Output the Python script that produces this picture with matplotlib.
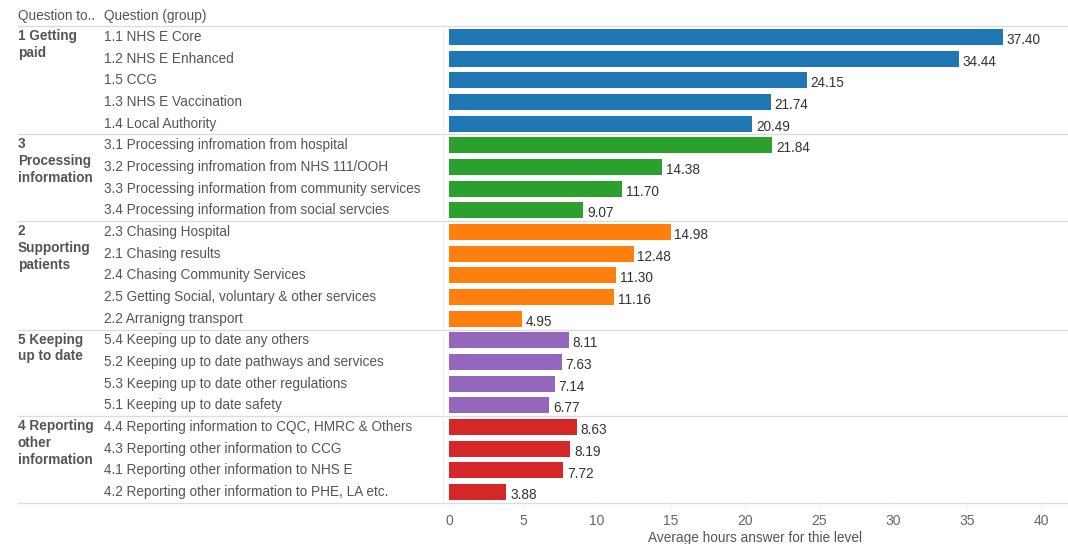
import matplotlib
matplotlib.use("Agg")
import matplotlib.pyplot as plt
import matplotlib.transforms as mtransforms

plt.rcParams["font.family"] = ["Liberation Sans", "DejaVu Sans"]

# --- Data ---
groups = ["1 Getting\npaid", "3\nProcessing\ninformation", "2\nSupporting\npatients",
          "5 Keeping\nup to date", "4 Reporting\nother\ninformation"]
group_colors = ["#1f77b4", "#2ca02c", "#ff7f0e", "#9467bd", "#d62728"]

questions = [
    ["1.1 NHS E Core", "1.2 NHS E Enhanced", "1.5 CCG", "1.3 NHS E Vaccination", "1.4 Local Authority"],
    ["3.1 Processing infromation from hospital", "3.2 Processing infromation from NHS 111/OOH",
     "3.3 Processing information from community services", "3.4 Processing information from social servcies"],
    ["2.3 Chasing Hospital", "2.1 Chasing results", "2.4 Chasing Community Services",
     "2.5 Getting Social, voluntary & other services", "2.2 Arranigng transport"],
    ["5.4 Keeping up to date any others", "5.2 Keeping up to date pathways and services",
     "5.3 Keeping up to date other regulations", "5.1 Keeping up to date safety"],
    ["4.4 Reporting information to CQC, HMRC & Others", "4.3 Reporting other information to CCG",
     "4.1 Reporting other information to NHS E", "4.2 Reporting other information to PHE, LA etc."],
]
hours = [
    [37.40, 34.44, 24.15, 21.74, 20.49],
    [21.84, 14.38, 11.70, 9.07],
    [14.98, 12.48, 11.30, 11.16, 4.95],
    [8.11, 7.63, 7.14, 6.77],
    [8.63, 8.19, 7.72, 3.88],
]
x_ticks = [0, 5, 10, 15, 20, 25, 30, 35, 40]

# --- Figure ---
W, H = 1068, 544
fig = plt.figure(figsize=(W / 100, H / 100), dpi=100)
ax = fig.add_axes([443 / W, (H - 503) / H, (W - 443) / W, (503 - 26) / H])

TXT = "#555555"
LINE = "#dcdcdc"
trans = mtransforms.blended_transform_factory(fig.transFigure, ax.transData)

row = 0
for g, (gname, qs, vals, col) in enumerate(zip(groups, questions, hours, group_colors)):
    ys = list(range(row, row + len(qs)))
    ax.barh(ys, vals, height=0.74, color=col, zorder=2)
    for y, q, v in zip(ys, qs, vals):
        ax.text(104 / W, y, q, transform=trans, ha="left", va="center",
                fontsize=9.8, color=TXT)
        ax.text(v + 0.25, y + 0.14, f"{v:.2f}", ha="left", va="center",
                fontsize=9.8, color="#333333")
    ax.text(18 / W, row - 0.36, gname, transform=trans, ha="left", va="top",
            fontsize=9.8, color=TXT, fontweight="bold", linespacing=1.25)
    row += len(qs)
    # separator under the group
    ax.plot([18 / W, 1], [row - 0.5, row - 0.5], transform=trans, color=LINE,
            linewidth=1, clip_on=False, zorder=1)

# header
ax.plot([18 / W, 1], [-0.5, -0.5], transform=trans, color=LINE, linewidth=1,
        clip_on=False)
ax.text(18 / W, -0.95, "Question to..", transform=trans, ha="left", va="center",
        fontsize=9.8, color=TXT)
ax.text(104 / W, -0.95, "Question (group)", transform=trans, ha="left", va="center",
        fontsize=9.8, color=TXT)

ax.set_ylim(row - 0.5, -0.5)
ax.set_xlim(-0.4, 41.8)
ax.set_yticks([])
ax.set_xticks(x_ticks)
ax.set_xticklabels([str(t) for t in x_ticks])
ax.tick_params(axis="x", length=3, color="#eeeeee", labelsize=10,
               labelcolor="#666666", pad=5)
for s in ["top", "right", "bottom"]:
    ax.spines[s].set_visible(False)
ax.spines["left"].set_color("#eeeeee")
ax.set_xlabel("Average hours answer for thie level", fontsize=9.8, color=TXT,
              labelpad=2)

fig.savefig("out.png", dpi=100)
